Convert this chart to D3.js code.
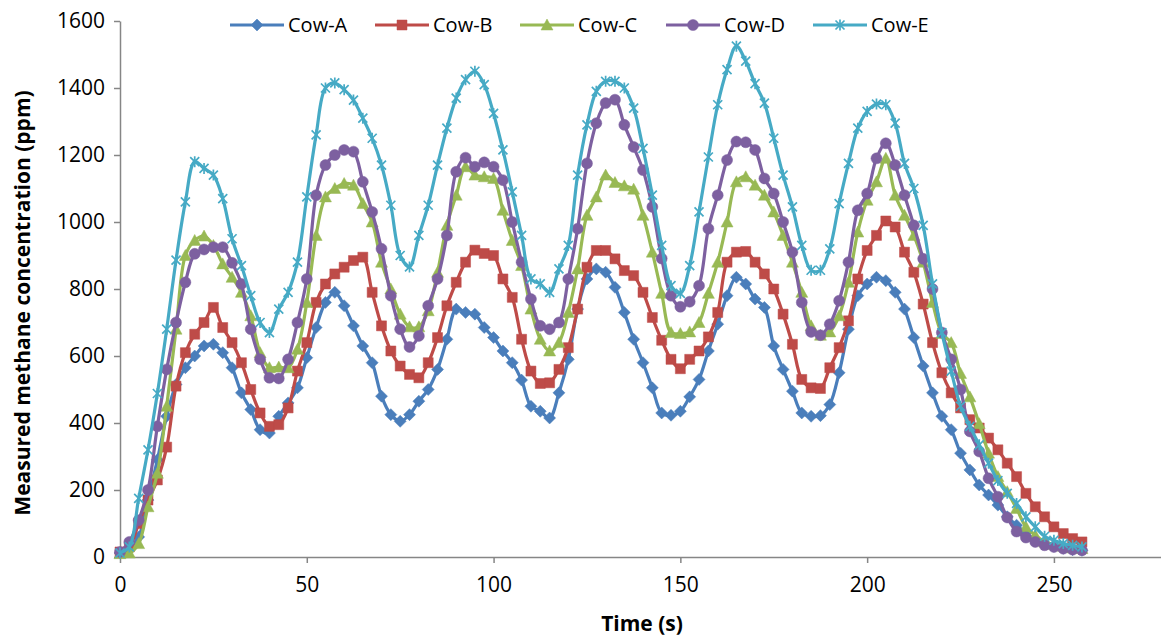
<!DOCTYPE html>
<html>
<head>
<meta charset="utf-8">
<script src="https://cdn.jsdelivr.net/npm/d3@7"></script>
<style>
  body { margin: 0; background: #fff; }
  text { font-family: "Open Sans", sans-serif; fill: #000; }
</style>
</head>
<body>
<svg width="1161" height="636"></svg>
<script>
// sampling interval of the logger (s)
const STEP = 2.5

const xTicks = [0, 50, 100, 150, 200, 250]
const yTicks = [0, 200, 400, 600, 800, 1000, 1200, 1400, 1600]
const names = ['Cow-A', 'Cow-B', 'Cow-C', 'Cow-D', 'Cow-E']

const cowA = [12, 25, 60, 170, 290, 420, 515, 565, 600, 630, 635, 610, 565, 490, 440, 380,
  370, 420, 460, 505, 595, 685, 760, 790, 750, 690, 630, 580, 480, 425, 405, 425,
  465, 500, 560, 650, 740, 730, 725, 685, 655, 615, 580, 528, 450, 435, 415, 490,
  590, 740, 830, 860, 850, 805, 730, 650, 580, 505, 430, 423, 435, 478, 530, 615,
  695, 780, 835, 815, 770, 745, 630, 560, 495, 430, 420, 422, 455, 550, 680, 780,
  815, 835, 825, 790, 740, 655, 570, 490, 420, 380, 310, 260, 215, 185, 155, 120,
  95, 72, 52, 42, 32, 26, 22, 20]

const cowB = [15, 30, 100, 170, 230, 328, 510, 610, 665, 700, 745, 685, 640, 580, 500, 430,
  390, 395, 445, 555, 640, 760, 815, 845, 865, 885, 895, 790, 690, 615, 570, 545,
  535, 580, 655, 750, 820, 880, 916, 906, 900, 830, 775, 650, 555, 518, 520, 560,
  625, 740, 865, 915, 915, 890, 855, 840, 790, 715, 647, 590, 562, 590, 615, 657,
  730, 880, 910, 912, 880, 845, 800, 725, 635, 530, 505, 503, 565, 625, 705, 830,
  915, 960, 1003, 985, 910, 850, 755, 640, 550, 490, 445, 410, 385, 355, 320, 280,
  240, 190, 150, 120, 90, 70, 55, 45]

const cowC = [10, 12, 40, 150, 250, 450, 680, 900, 945, 958, 930, 875, 835, 790, 720, 610,
  565, 567, 565, 620, 760, 960, 1075, 1100, 1115, 1110, 1055, 1000, 880, 800, 725, 687,
  687, 735, 850, 990, 1080, 1165, 1140, 1135, 1130, 1035, 945, 870, 740, 650, 615, 640,
  730, 860, 1020, 1075, 1140, 1118, 1108, 1098, 1020, 910, 787, 670, 667, 672, 700, 787,
  880, 1000, 1120, 1135, 1110, 1080, 1030, 960, 880, 790, 690, 662, 672, 720, 820, 970,
  1065, 1120, 1190, 1080, 1020, 960, 880, 760, 667, 640, 548, 478, 398, 310, 240, 195,
  145, 90, 65, 45, 38, 32, 27, 25]

const cowD = [15, 45, 110, 200, 390, 560, 700, 820, 905, 918, 925, 925, 878, 815, 680, 590,
  535, 533, 590, 700, 830, 1080, 1170, 1200, 1215, 1210, 1120, 1030, 920, 780, 680, 627,
  660, 750, 830, 960, 1150, 1192, 1165, 1178, 1165, 1125, 1000, 880, 770, 690, 680, 700,
  830, 980, 1175, 1295, 1355, 1365, 1290, 1224, 1155, 1045, 891, 780, 747, 762, 810, 980,
  1080, 1185, 1240, 1238, 1215, 1130, 1085, 1000, 910, 760, 672, 662, 695, 765, 880, 1035,
  1085, 1190, 1235, 1170, 1080, 990, 890, 800, 670, 590, 500, 375, 315, 235, 180, 118,
  76, 58, 45, 35, 30, 25, 22, 20]

const cowE = [12, 30, 175, 320, 488, 680, 886, 1060, 1180, 1160, 1140, 1070, 950, 870, 780, 700,
  670, 740, 790, 880, 1075, 1260, 1400, 1415, 1395, 1364, 1310, 1250, 1170, 1050, 900, 866,
  960, 1050, 1170, 1280, 1370, 1425, 1450, 1410, 1324, 1215, 1090, 960, 830, 815, 790, 860,
  930, 1140, 1290, 1390, 1420, 1420, 1400, 1340, 1220, 1080, 930, 810, 787, 870, 1030, 1194,
  1350, 1455, 1525, 1480, 1413, 1355, 1250, 1140, 1045, 930, 856, 856, 920, 1055, 1175, 1280,
  1330, 1352, 1350, 1295, 1175, 1100, 990, 815, 670, 555, 450, 390, 335, 280, 228, 190,
  160, 120, 90, 62, 50, 40, 35, 30]

const seriesValues = [cowA, cowB, cowC, cowD, cowE]
const colors = ['#4a7ebb', '#be4b48', '#98b954', '#7d60a0', '#46aac5']
const markerKinds = ['diamond', 'square', 'triangle', 'circle', 'star']

const svg = d3.select('svg')
const plotLeft = 120, plotRight = 1166, plotTop = 21, plotBottom = 557

const x = d3.scaleLinear().domain([0, 280]).range([plotLeft, plotRight])
const y = d3.scaleLinear().domain([0, 1600]).range([plotBottom, plotTop])

const axisColor = '#868686'

// axes
svg.append('g').attr('transform', `translate(${plotLeft},0)`)
  .call(d3.axisLeft(y).tickValues(yTicks).tickFormat(d3.format('d'))
    .tickSize(6).tickPadding(9).tickSizeOuter(0))
svg.append('g').attr('transform', `translate(0,${plotBottom})`)
  .call(d3.axisBottom(x).tickValues(xTicks).tickFormat(d3.format('d'))
    .tickSize(6).tickPadding(14).tickSizeOuter(0))

svg.selectAll('.domain, .tick line').attr('stroke', axisColor).attr('stroke-width', 1.5)
svg.selectAll('.tick text').style('font-size', '21px').attr('fill', '#000')

svg.append('text')
  .attr('x', 642).attr('y', 631)
  .attr('text-anchor', 'middle')
  .style('font-size', '21px').style('font-weight', 'bold')
  .text('Time (s)')

svg.append('text')
  .attr('transform', `translate(30,${(plotTop + plotBottom) / 2 + 14}) rotate(-90)`)
  .attr('text-anchor', 'middle')
  .style('font-size', '21px').style('font-weight', 'bold')
  .text('Measured methane concentration (ppm)')

const markerPath = (kind) => {
  switch (kind) {
    case 'diamond': return 'M0,-6 L6,0 L0,6 L-6,0 Z'
    case 'square': return 'M-5,-5 H5 V5 H-5 Z'
    case 'triangle': return 'M0,-6 L6,5 L-6,5 Z'
    case 'circle': return 'M-5.5,0 A5.5,5.5 0 1,0 5.5,0 A5.5,5.5 0 1,0 -5.5,0 Z'
    case 'star': return 'M-4.5,-4.5 L4.5,4.5 M-4.5,4.5 L4.5,-4.5 M0,-5.5 V5.5'
  }
}

const line = d3.line()
  .x(d => x(d[0]))
  .y(d => y(d[1]))
  .curve(d3.curveCatmullRom.alpha(0.5))

const addMarkers = (g, pts, kind, color) => {
  const filled = kind !== 'star'
  return g.selectAll('path.marker').data(pts).join('path')
    .attr('class', 'marker')
    .attr('d', markerPath(kind))
    .attr('transform', d => `translate(${x(d[0])},${y(d[1])})`)
    .attr('fill', filled ? color : 'none')
    .attr('stroke', color)
    .attr('stroke-width', filled ? 0.5 : 1.7)
}

seriesValues.forEach((vals, s) => {
  const pts = vals.map((v, i) => [i * STEP, v])
  const g = svg.append('g')
  g.append('path')
    .attr('d', line(pts))
    .attr('fill', 'none')
    .attr('stroke', colors[s])
    .attr('stroke-width', 3.2)
    .attr('stroke-linejoin', 'round')
  addMarkers(g, pts, markerKinds[s], colors[s])
})

// legend
const legendX = [230, 375, 520, 666, 813]
names.forEach((name, s) => {
  const g = svg.append('g').attr('transform', `translate(${legendX[s]},25)`)
  g.append('line').attr('x1', 0).attr('x2', 54).attr('y1', 0).attr('y2', 0)
    .attr('stroke', colors[s]).attr('stroke-width', 3.2)
  addMarkers(g, [[0, 0]], markerKinds[s], colors[s])
    .attr('transform', 'translate(27,0)')
  g.append('text').attr('x', 58).attr('y', 7)
    .style('font-size', '20px')
    .text(name)
})
</script>
</body>
</html>
